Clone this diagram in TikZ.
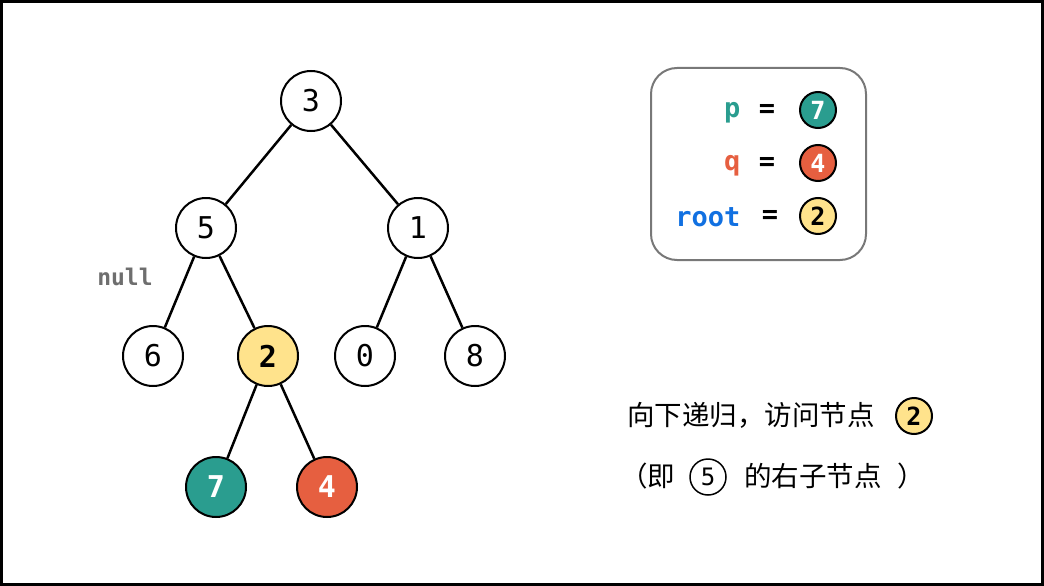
\documentclass[tikz,border=0pt]{standalone}
\usepackage{fontspec}
\newfontfamily\monof{DejaVu Sans Mono}
\newfontfamily\cjk{Noto Sans CJK SC}
\definecolor{tealc}{RGB}{42,157,143}
\definecolor{redc}{RGB}{230,95,64}
\definecolor{yelc}{RGB}{255,227,140}
\definecolor{bluec}{RGB}{17,112,225}
\definecolor{greyc}{RGB}{110,110,110}
\definecolor{boxc}{RGB}{120,120,120}
\begin{document}
\begin{tikzpicture}[x=1pt,y=-1pt,
  tn/.style={circle,draw=black,line width=2pt,minimum size=60pt,inner sep=0pt,fill=white,font=\monof\fontsize{30}{32}\selectfont},
  sn/.style={circle,draw=black,line width=2pt,minimum size=36pt,inner sep=0pt,fill=white,font=\monof\bfseries\fontsize{25}{27}\selectfont},
  edge/.style={line width=2.5pt},
  lab/.style={font=\monof\bfseries\fontsize{27}{29}\selectfont},
  cn/.style={font=\cjk\fontsize{27.5}{30}\selectfont,inner sep=0pt}]
\useasboundingbox (0,0) rectangle (1044,586);
\draw[line width=3pt] (1.5,1.5) rectangle (1042.5,584.5);
% tree
\node[tn] (n3) at (311,101) {3};
\node[tn] (n5) at (206,228) {5};
\node[tn] (n1) at (418,228) {1};
\node[tn] (n6) at (153,356) {6};
\node[tn,fill=yelc,font=\monof\bfseries\fontsize{30}{32}\selectfont] (n2) at (268,356) {2};
\node[tn] (n0) at (365,356) {0};
\node[tn] (n8) at (475,356) {8};
\node[tn,fill=tealc,text=white,font=\monof\bfseries\fontsize{30}{32}\selectfont] (n7) at (216,487) {7};
\node[tn,fill=redc,text=white,font=\monof\bfseries\fontsize{30}{32}\selectfont] (n4) at (327,487) {4};
\draw[edge] (n3) -- (n5);
\draw[edge] (n3) -- (n1);
\draw[edge] (n5) -- (n6);
\draw[edge] (n5) -- (n2);
\draw[edge] (n1) -- (n0);
\draw[edge] (n1) -- (n8);
\draw[edge] (n2) -- (n7);
\draw[edge] (n2) -- (n4);
\node[font=\monof\bfseries\fontsize{23}{25}\selectfont,text=greyc] (nul) at (125,277) {null};
% legend
\node[draw=boxc,line width=2pt,rounded corners=26pt,minimum width=215pt,minimum height=192pt] (box) at (758.5,164) {};
\node[lab,text=tealc,anchor=east] (lp) at (744,113) {p};
\node[lab] (e1) at (767,111) {=};
\node[sn,fill=tealc,text=white] (c7) at (818,110) {7};
\node[lab,text=redc,anchor=east] (lq) at (744,166) {q};
\node[lab] (e2) at (767,164) {=};
\node[sn,fill=redc,text=white] (c4) at (818,163) {4};
\node[lab,text=bluec,anchor=east] (lr) at (744,217) {root};
\node[lab] (e3) at (770,217) {=};
\node[sn,fill=yelc] (c2) at (818,216) {2};
% caption
\node[cn,anchor=west] (t1) at (627,415) {向下递归，访问节点};
\node[sn,fill=yelc] (t2) at (914,416) {2};
\node[cn,anchor=west] (t3) at (620,476) {（即};
\node[sn,font=\monof\fontsize{24}{26}\selectfont,line width=1.5pt] (t5) at (708,477) {5};
\node[cn,anchor=west] (t6) at (744,476) {的右子节点};
\node[cn,anchor=west] (t7) at (897,476) {）};
\end{tikzpicture}
\end{document}
